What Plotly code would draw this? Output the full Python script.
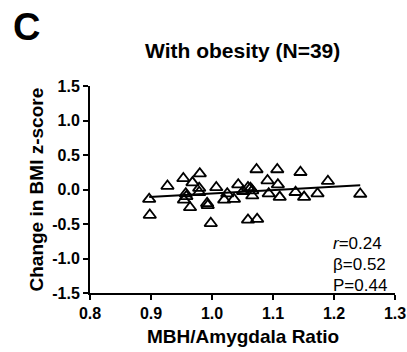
import plotly.graph_objects as go

ratio = [0.897, 0.898, 0.927, 0.953, 0.968, 0.980, 0.957, 0.954, 0.964, 0.979,
         0.979, 0.992, 0.993, 0.998, 1.007, 1.020, 1.025, 1.036, 1.043, 1.059,
         1.063, 1.066, 1.066, 1.073, 1.059, 1.074, 1.091, 1.107, 1.108, 1.093,
         1.111, 1.145, 1.137, 1.151, 1.173, 1.190, 1.243, 1.051, 0.958]
bmi_change = [-0.14, -0.37, 0.05, 0.16, 0.10, 0.23, -0.06, -0.15, -0.26, 0.02,
              -0.04, -0.20, -0.23, -0.49, 0.03, -0.15, -0.06, -0.14, 0.07, 0.03,
              0.02, -0.015, -0.09, 0.29, -0.44, -0.43, 0.13, 0.29, 0.07, -0.06,
              -0.11, 0.25, -0.04, -0.11, -0.06, 0.12, -0.065, -0.025, -0.10]
fit_x = [0.897, 1.243]
fit_y = [-0.11, 0.06]
x_ticks = [0.8, 0.9, 1.0, 1.1, 1.2, 1.3]
y_ticks = [-1.5, -1.0, -0.5, 0.0, 0.5, 1.0, 1.5]
stats = ["<i>r</i>=0.24", "β=0.52", "P=0.44"]

FONT = "Liberation Sans, Arial, sans-serif"
L, R, T, B = 90, 12, 86, 59
PW, PH = 407 - L - R, 352 - T - B

fig = go.Figure()
fig.add_trace(go.Scatter(x=fit_x, y=fit_y, mode="lines",
                         line=dict(color="black", width=2), hoverinfo="skip"))
fig.add_trace(go.Scatter(x=ratio, y=bmi_change, mode="markers",
                         marker=dict(symbol="triangle-up-open", size=11,
                                     color="black", line=dict(width=1.8))))

fig.update_layout(
    width=407, height=352,
    margin=dict(l=L, r=R, t=T, b=B, autoexpand=False),
    paper_bgcolor="white", plot_bgcolor="white",
    showlegend=False,
    font=dict(family=FONT, color="black"),
)
axis_common = dict(showgrid=False, zeroline=False, showline=True,
                   linecolor="black", linewidth=2, ticks="outside",
                   ticklen=5, tickwidth=2, tickcolor="black", automargin=False,
                   tickfont=dict(family=FONT, size=16, color="black", weight="bold"))
fig.update_xaxes(range=[0.8, 1.3], tickvals=x_ticks,
                 ticktext=[f"{v:.1f}" for v in x_ticks], **axis_common)
fig.update_yaxes(range=[-1.5, 1.5], tickvals=y_ticks,
                 ticktext=[f"{v:.1f}" for v in y_ticks], **axis_common)

fig.add_annotation(text="<b>MBH/Amygdala Ratio</b>", xref="paper", yref="paper",
                   x=0.5, y=0, yanchor="middle", yshift=-43, showarrow=False,
                   font=dict(family=FONT, size=19, color="black"))
fig.add_annotation(text="<b>Change in BMI z-score</b>", xref="paper", yref="paper",
                   x=0, y=0.5, xanchor="center", yanchor="middle", xshift=-54,
                   textangle=-90, showarrow=False,
                   font=dict(family=FONT, size=19, color="black"))
fig.add_annotation(text="<b>C</b>", xref="paper", yref="paper",
                   x=-L / PW, y=1 + T / PH, xanchor="center", yanchor="middle",
                   xshift=26, yshift=-27, showarrow=False,
                   font=dict(family=FONT, size=38, color="black"))
fig.add_annotation(text="<b>With obesity (N=39)</b>", xref="paper", yref="paper",
                   x=0.5, y=1, yanchor="middle", yshift=36, showarrow=False,
                   font=dict(family=FONT, size=21, color="black"))
for i, s in enumerate(stats):
    fig.add_annotation(text=s, xref="paper", yref="y",
                       x=0.79, y=-0.785 - i * 0.3, xanchor="left", yanchor="middle",
                       showarrow=False,
                       font=dict(family=FONT, size=17, color="black"))

fig.write_html("out.html")
